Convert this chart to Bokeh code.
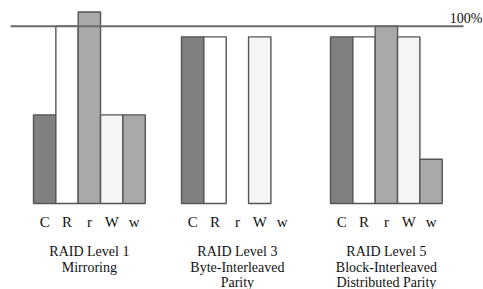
from bokeh.plotting import figure
from bokeh.models import Range1d, ColumnDataSource
from bokeh.core.properties import value
from bokeh.embed import file_html
from bokeh.resources import INLINE

# ---- data ----
metrics = ["C", "R", "r", "W", "w"]
levels = ["RAID Level 1", "RAID Level 3", "RAID Level 5"]
subtitles = [["Mirroring"], ["Byte-Interleaved", "Parity"],
             ["Block-Interleaved", "Distributed Parity"]]
raid1 = [0.50, 1.00, 1.08, 0.50, 0.50]
raid3 = [0.94, 0.94, 0.00, 0.94, 0.00]
raid5 = [0.94, 0.94, 1.00, 0.94, 0.25]
reference_value = 1.0
reference_label = "100%"

# ---- styles / layout ----
fills = {"C": "#808080", "R": "#ffffff", "r": "#a9a9a9", "W": "#f5f5f5", "w": "#a9a9a9"}
edge = "#555555"
FONT = value("Liberation Serif")
FS = "14px"

W, H = 483, 289
BASE = 203.0      # screen y of 0
PPU = 177.3       # pixels per unit value
group_left = [33.0, 181.0, 330.0]   # screen x of each group's first bar
BW = 22.35

def vy(screen_y):
    return (BASE - screen_y) / PPU

p = figure(width=W, height=H, output_backend="svg", toolbar_location=None,
           x_range=Range1d(0, W), y_range=Range1d(vy(H), vy(0)),
           min_border=0, outline_line_color=None)
p.axis.visible = False
p.grid.visible = False
p.background_fill_color = "white"
p.border_fill_color = "white"

xs, tops, cols, lx, ltxt = [], [], [], [], []
for g, vals in enumerate([raid1, raid3, raid5]):
    for i, (m, v) in enumerate(zip(metrics, vals)):
        cx = group_left[g] + BW * (i + 0.5)
        lx.append(cx)
        ltxt.append(m)
        if v > 0:
            xs.append(cx)
            tops.append(v)
            cols.append(fills[m])

src = ColumnDataSource(dict(x=xs, top=tops, color=cols))
p.vbar(x="x", top="top", bottom=0, width=BW, fill_color="color",
       line_color=edge, line_width=1.4, source=src)

# 100% reference line
p.segment(x0=[10], x1=[463], y0=[reference_value], y1=[reference_value],
          line_color="#6a6a6a", line_width=2)
p.text(x=[482], y=[vy(18)], text=[reference_label], text_font=FONT,
       text_font_size=FS, text_align="right", text_baseline="alphabetic",
       text_color="#111111")

# category labels
p.text(x=lx, y=[vy(221.5)] * len(lx), text=ltxt, text_font=FONT,
       text_font_size="15px", text_align="center", text_baseline="alphabetic",
       text_color="#111111")

# group titles
line_base = [251.0, 266.5, 282.0]
tx, ty, tt = [], [], []
for g, (lev, subs) in enumerate(zip(levels, subtitles)):
    cx = group_left[g] + BW * 2.5
    for j, s in enumerate([lev] + subs):
        tx.append(cx)
        ty.append(vy(line_base[j]))
        tt.append(s)
p.text(x=tx, y=ty, text=tt, text_font=FONT, text_font_size=FS,
       text_align="center", text_baseline="alphabetic", text_color="#111111")

open("out.html", "w").write(file_html(p, INLINE))
